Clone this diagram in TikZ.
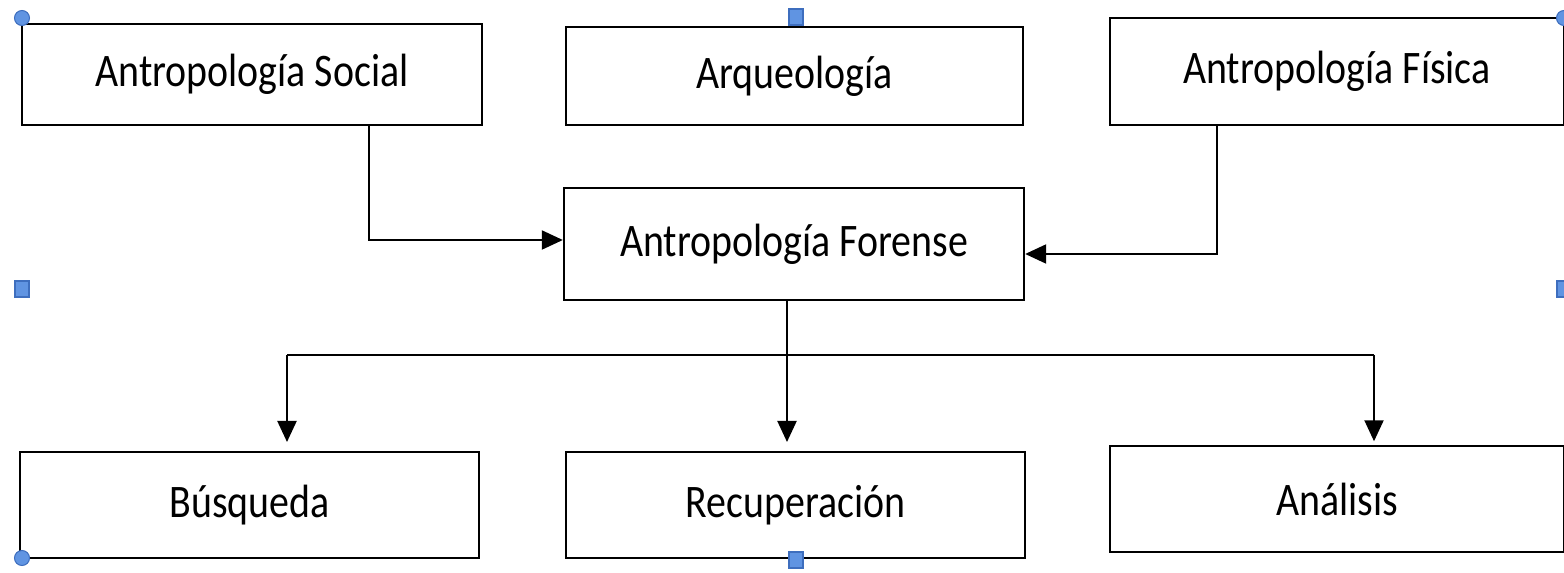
\documentclass[tikz,border=0pt]{standalone}
\usepackage{fontspec}
\usepackage{graphicx}
\setmainfont{Carlito}
\usetikzlibrary{arrows.meta}
\definecolor{handfill}{RGB}{96,148,226}
\definecolor{handline}{RGB}{62,110,190}
\newcommand{\estirar}[1]{\scalebox{1}[1.17]{#1}}
\tikzset{
  caja/.style={draw=black,line width=1.4pt,fill=white,rectangle,inner sep=0pt,
    font=\fontsize{22.7}{28}\selectfont},
  flecha/.style={line width=1.2pt,-{Triangle[length=0.42cm,width=0.38cm]}},
  linea/.style={line width=1.2pt},
  asa/.style={fill=handfill,draw=handline,line width=0.6pt}
}
\begin{document}
\begin{tikzpicture}[x=0.02cm,y=-0.02cm]
\useasboundingbox (0,0) rectangle (1564,573);
% cajas superiores
\node[caja,minimum width=9.2cm,minimum height=2.02cm] (soc) at (252,74.5) {\estirar{Antropología Social}};
\node[caja,minimum width=9.14cm,minimum height=1.96cm] (arq) at (794.5,76) {\estirar{Arqueología}};
\node[caja,minimum width=9.08cm,minimum height=2.14cm] (fis) at (1337,71.5) {\estirar{Antropología Física}};
% caja central
\node[caja,minimum width=9.2cm,minimum height=2.24cm] (for) at (794,244) {\estirar{Antropología Forense}};
% cajas inferiores
\node[caja,minimum width=9.18cm,minimum height=2.12cm] (bus) at (249.5,505) {\estirar{Búsqueda}};
\node[caja,minimum width=9.18cm,minimum height=2.12cm] (rec) at (795.5,505) {\estirar{Recuperación}};
\node[caja,minimum width=9.08cm,minimum height=2.12cm] (ana) at (1337,499) {\estirar{Análisis}};
% conectores
\draw[flecha] (soc.south -| 369,0) |- ([yshift=0.08cm]for.west);
\draw[flecha] (fis.south -| 1217,0) |- ([yshift=-0.2cm]for.east);
\coordinate (ramaI) at (287,355);
\coordinate (ramaD) at (1374,355);
\draw[linea] (ramaI) -- (ramaD);
\draw[flecha,shorten >=5pt] (for.south -| 787,0) -- (rec.north -| 787,0);
\draw[flecha,shorten >=5pt] (ramaI) -- (ramaI |- bus.north);
\draw[flecha,shorten >=2pt] (ramaD) -- (ramaD |- ana.north);
% asas de seleccion
\foreach \p in {(22,18),(22,558),(1564,18)}
  \draw[asa] \p circle (0.15cm);
\foreach \p in {(796,17),(22,289),(1564,289),(796,560)}
  \draw[asa] \p ++(-7,-8) rectangle ++(14,16);
\end{tikzpicture}
\end{document}
